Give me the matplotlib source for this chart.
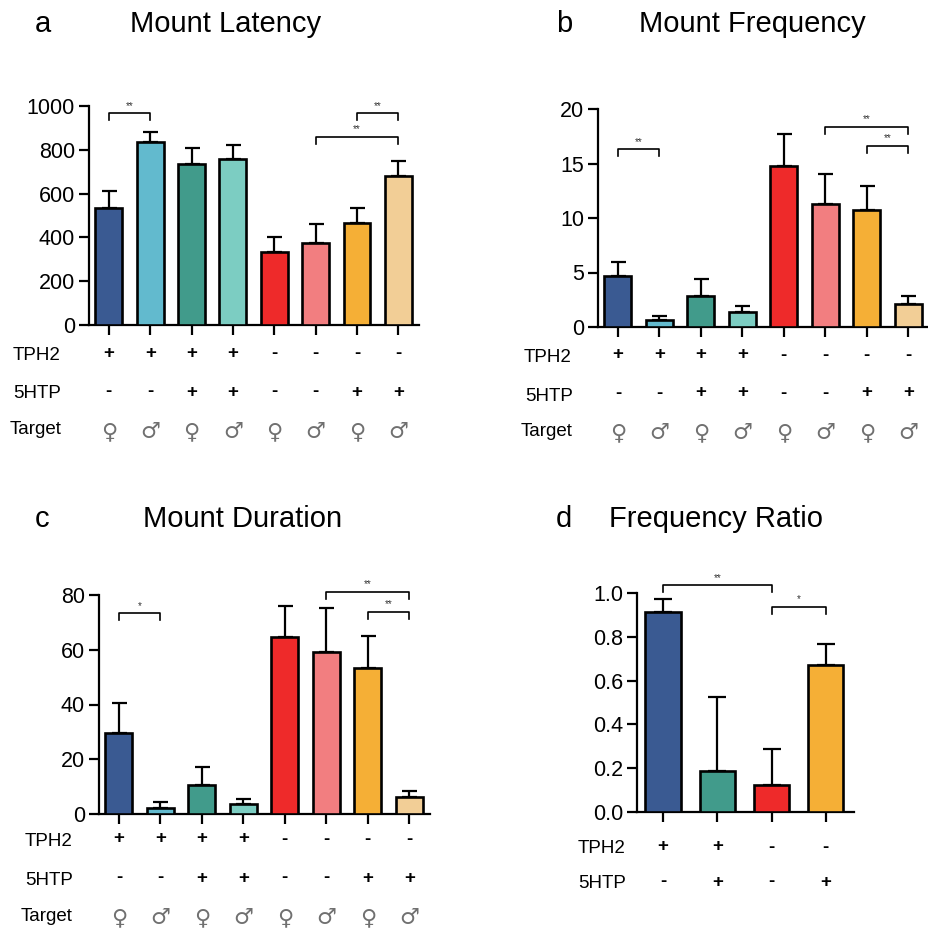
import numpy as np
import matplotlib
matplotlib.use('Agg')
import matplotlib.pyplot as plt
import matplotlib.transforms as mtransforms

plt.rcParams['font.family'] = ['Liberation Sans', 'DejaVu Sans']

W, H = 929, 931

# colours of the 8 groups
colors8 = ['#3A5A92', '#62BACE', '#419B8B', '#7CCDC2',
           '#EE2A2A', '#F27E80', '#F5AF36', '#F2CE96']
colors4 = ['#3A5A92', '#419B8B', '#EE2A2A', '#F5AF36']

tph2_8 = ['+', '+', '+', '+', '-', '-', '-', '-']
htp_8 = ['-', '-', '+', '+', '-', '-', '+', '+']
target_8 = ['\u2640', '\u2642'] * 4
tph2_4 = ['+', '+', '-', '-']
htp_4 = ['-', '+', '-', '+']

# values (mean, upper error)
latency_mean = [533, 834, 735, 756, 332, 376, 466, 682]
latency_err = [79, 49, 75, 66, 70, 84, 70, 65]
freq_mean = [4.7, 0.6, 2.87, 1.34, 14.8, 11.3, 10.7, 2.1]
freq_err = [1.3, 0.44, 1.49, 0.61, 2.9, 2.7, 2.2, 0.77]
dur_mean = [29.7, 2.3, 10.5, 3.65, 64.7, 59.1, 53.2, 6.1]
dur_err = [10.7, 2.0, 6.5, 1.85, 11.2, 16.1, 11.7, 2.2]
ratio_mean = [0.912, 0.189, 0.123, 0.673]
ratio_err = [0.061, 0.336, 0.163, 0.096]

# significance brackets: (bar i, bar j, height, label)
latency_sig = [(0, 1, 966, '**'), (6, 7, 966, '**'), (5, 7, 860, '**')]
freq_sig = [(0, 1, 16.3, '**'), (5, 7, 18.35, '**'), (6, 7, 16.6, '**')]
dur_sig = [(0, 1, 73.3, '*'), (5, 7, 81.1, '**'), (6, 7, 73.8, '**')]
ratio_sig = [(0, 2, 1.035, '**'), (2, 3, 0.936, '*')]

fig = plt.figure(figsize=(W / 100, H / 100), dpi=100)


def px_axes(x0, y0, x1, y1):
    return fig.add_axes([x0 / W, 1 - y1 / H, (x1 - x0) / W, (y1 - y0) / H])


def panel(ax, means, errs, colors, ymax, yticks, sigs, xmax, capsize, fmt=None):
    x = np.arange(len(means))
    ax.bar(x, means, width=0.65, color=colors, edgecolor='black',
           linewidth=1.9, zorder=3)
    ax.errorbar(x, means, yerr=[np.zeros(len(errs)), errs], fmt='none',
                ecolor='black', elinewidth=1.6, capsize=capsize,
                capthick=1.6, zorder=2, clip_on=False)
    ax.set_xlim(-0.48, xmax)
    ax.set_ylim(0, ymax)
    ax.set_yticks(yticks)
    if fmt:
        ax.set_yticklabels([fmt.format(v) for v in yticks])
    ax.set_xticks(x)
    ax.set_xticklabels([])
    for s in ['top', 'right']:
        ax.spines[s].set_visible(False)
    for s in ['left', 'bottom']:
        ax.spines[s].set_linewidth(1.6)
    ax.tick_params(axis='both', direction='out', length=7, width=1.6,
                   labelsize=15.5, pad=3)
    drop = 0.032 * ymax
    for i, j, h, lab in sigs:
        ax.plot([i, i, j, j], [h - drop, h, h, h - drop], color='black',
                lw=1.2, clip_on=False)
        ax.text((i + j) / 2, h + 0.012 * ymax, lab, ha='center', va='bottom',
                fontsize=7, color='#333333')


def rows(ax, rows_spec):
    trans = mtransforms.blended_transform_factory(ax.transData, fig.transFigure)
    for name, lx, base_y, sign_y, signs in rows_spec:
        fig.text(lx / W, 1 - base_y / H, name, fontsize=13.5, va='baseline')
        for k, s in enumerate(signs):
            if s in ('\u2640', '\u2642'):
                ax.text(k, 1 - sign_y / H, s, transform=trans, ha='center',
                        va='center', fontsize=16, color='#707070',
                        family=['DejaVu Sans'])
            else:
                ax.text(k, 1 - sign_y / H, s, transform=trans, ha='center',
                        va='center', fontsize=13.5, fontweight='bold')


def title(xl, xt, y, letter, text):
    fig.text(xl / W, 1 - y / H, letter, fontsize=21, va='baseline')
    fig.text(xt / W, 1 - y / H, text, fontsize=21, va='baseline')


# a
ax_a = px_axes(89, 106, 419, 325)
panel(ax_a, latency_mean, latency_err, colors8, 1000, range(0, 1001, 200),
      latency_sig, 7.5, 5.4)
rows(ax_a, [('TPH2', 13, 360, 353, tph2_8),
            ('5HTP', 13, 398, 392, htp_8),
            ('Target', 10, 434, 432, target_8)])
title(35, 130, 32, 'a', 'Mount Latency')

# b
ax_b = px_axes(598, 109, 929, 327)
panel(ax_b, freq_mean, freq_err, colors8, 20, range(0, 21, 5),
      freq_sig, 7.5, 5.4)
rows(ax_b, [('TPH2', 524, 362, 355, tph2_8),
            ('5HTP', 525, 401, 393, htp_8),
            ('Target', 521, 436, 433, target_8)])
title(556, 639, 32, 'b', 'Mount Frequency')

# c
ax_c = px_axes(99, 595, 430, 814)
panel(ax_c, dur_mean, dur_err, colors8, 80, range(0, 81, 20),
      dur_sig, 7.5, 5.4)
rows(ax_c, [('TPH2', 25, 846, 839, tph2_8),
            ('5HTP', 25, 885, 878, htp_8),
            ('Target', 21, 921, 918, target_8)])
title(35, 143, 527, 'c', 'Mount Duration')

# d
ax_d = px_axes(637, 593, 854, 812)
panel(ax_d, ratio_mean, ratio_err, colors4, 1.0, np.arange(0, 1.01, 0.2),
      ratio_sig, 3.52, 6.8, fmt='{:.1f}')
rows(ax_d, [('TPH2', 578, 853, 847, tph2_4),
            ('5HTP', 578, 888, 882, htp_4)])
title(556, 609, 527, 'd', 'Frequency Ratio')

fig.savefig('out.png', dpi=100)
